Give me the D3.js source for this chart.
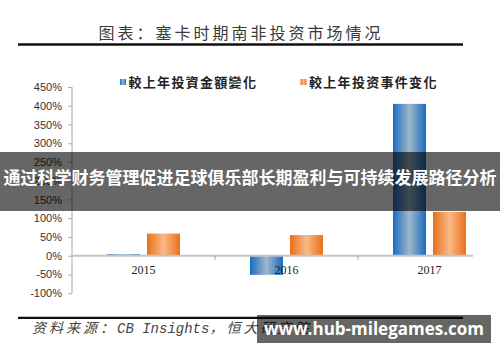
<!DOCTYPE html>
<html>
<head>
<meta charset="utf-8">
<script src="https://cdn.jsdelivr.net/npm/d3@7"></script>
<style>
  html, body { margin: 0; padding: 0; background: #fff; }
  svg { display: block; }
</style>
</head>
<body>
<script>
const years = ['2015', '2016', '2017'];
const seriesNames = ['較上年投資金額變化', '較上年投资事件变化'];
const amountChange = [4, -51, 405];
const eventChange = [59, 55, 117];
const yTicks = [-100, -50, 0, 50, 100, 150, 200, 250, 300, 350, 400, 450];

const width = 500;
const height = 362;

const svg = d3.select('body')
  .append('svg')
  .attr('width', width)
  .attr('height', height);

const defs = svg.append('defs');

const addGradient = (id, edge, mid) => {
  const g = defs.append('linearGradient')
    .attr('id', id)
    .attr('x1', '0%').attr('x2', '100%')
    .attr('y1', '0%').attr('y2', '0%');
  g.append('stop').attr('offset', '0%').attr('stop-color', edge);
  g.append('stop').attr('offset', '50%').attr('stop-color', mid);
  g.append('stop').attr('offset', '100%').attr('stop-color', edge);
};
addGradient('gBlue', '#1a6cc0', '#9fb8ca');
addGradient('gOrange', '#e8701a', '#fbb986');

// title + rules
svg.append('text')
  .attr('x', 241)
  .attr('y', 39)
  .attr('text-anchor', 'middle')
  .style('font-family', '"Noto Sans CJK SC", sans-serif')
  .style('font-size', '16px')
  .style('letter-spacing', '3px')
  .style('fill', '#3a3a3a')
  .text('图表：塞卡时期南非投资市场情况');

svg.append('line')
  .attr('x1', 18).attr('x2', 463)
  .attr('y1', 44.5).attr('y2', 44.5)
  .attr('stroke', '#111')
  .attr('stroke-width', 2.5);

svg.append('line')
  .attr('x1', 18).attr('x2', 463)
  .attr('y1', 317.8).attr('y2', 317.8)
  .attr('stroke', '#111')
  .attr('stroke-width', 2.2);

// scales
const x0 = d3.scaleBand()
  .domain(years)
  .range([72, 501]);

const x1 = d3.scaleBand()
  .domain(seriesNames)
  .range([0, x0.bandwidth()])
  .paddingInner(0.175)
  .paddingOuter(0.875);

const y = d3.scaleLinear()
  .domain([-100, 450])
  .range([293.2, 87]);

// y axis
const yAxis = svg.append('g')
  .attr('transform', 'translate(72,0)')
  .call(d3.axisLeft(y)
    .tickValues(yTicks)
    .tickSize(4)
    .tickPadding(6)
    .tickFormat((d) => d + '%'));

yAxis.select('.domain')
  .attr('stroke', '#c4c4c4')
  .attr('stroke-width', 1.5)
  .attr('d', `M0,${y(-100)}V${y(450)}`);
yAxis.selectAll('.tick line').attr('stroke', '#b0b0b0');
yAxis.selectAll('.tick text')
  .style('font-family', '"Liberation Sans", Arial, sans-serif')
  .style('font-size', '11px')
  .style('fill', '#333');

// bars
const rows = years.map((year, i) => ({
  year: year,
  values: [
    { key: seriesNames[0], value: amountChange[i], fill: 'url(#gBlue)' },
    { key: seriesNames[1], value: eventChange[i], fill: 'url(#gOrange)' }
  ]
}));

svg.append('g')
  .selectAll('g')
  .data(rows)
  .join('g')
  .attr('transform', (d) => `translate(${x0(d.year)},0)`)
  .selectAll('rect')
  .data((d) => d.values)
  .join('rect')
  .attr('x', (d) => x1(d.key))
  .attr('width', x1.bandwidth())
  .attr('y', (d) => y(Math.max(0, d.value)))
  .attr('height', (d) => Math.abs(y(d.value) - y(0)))
  .attr('fill', (d) => d.fill);

// x axis (zero line)
svg.append('line')
  .attr('x1', 72).attr('x2', 473)
  .attr('y1', y(0)).attr('y2', y(0))
  .attr('stroke', '#c4c4c4')
  .attr('stroke-width', 2);

svg.append('g')
  .selectAll('line')
  .data(years.slice(1))
  .join('line')
  .attr('x1', (d) => x0(d)).attr('x2', (d) => x0(d))
  .attr('y1', y(0)).attr('y2', y(0) + 4)
  .attr('stroke', '#999');

svg.append('g')
  .selectAll('text')
  .data(years)
  .join('text')
  .attr('x', (d) => x0(d) + x0.bandwidth() / 2)
  .attr('y', 274)
  .attr('text-anchor', 'middle')
  .style('font-family', '"Liberation Serif", "Times New Roman", serif')
  .style('font-size', '12px')
  .style('fill', '#222')
  .text((d) => d);

// legend
const legendX = [120, 300.5];
const legendFill = ['url(#gBlue)', 'url(#gOrange)'];
const legend = svg.append('g')
  .selectAll('g')
  .data(seriesNames)
  .join('g')
  .attr('transform', (d, i) => `translate(${legendX[i]},79)`);

legend.append('rect')
  .attr('width', 6)
  .attr('height', 6)
  .attr('fill', (d, i) => legendFill[i]);

legend.append('text')
  .attr('x', 8.5)
  .attr('y', 7.5)
  .style('font-family', '"Noto Sans CJK TC", "Noto Sans CJK SC", sans-serif')
  .style('font-size', '13px')
  .style('font-weight', 'bold')
  .style('letter-spacing', '1.3px')
  .style('fill', '#222')
  .text((d) => d);

// source line
const source = svg.append('text')
  .attr('x', 32)
  .attr('y', 333)
  .style('font-style', 'italic')
  .style('font-size', '14px')
  .style('fill', '#444');
source.append('tspan')
  .style('font-family', '"Noto Sans CJK SC", sans-serif')
  .style('letter-spacing', '3px')
  .text('资料来源：');
source.append('tspan')
  .style('font-family', '"Liberation Mono", monospace')
  .text('CB Insights');
source.append('tspan')
  .style('font-family', '"Noto Sans CJK SC", sans-serif')
  .style('letter-spacing', '3px')
  .text('，恒大研究院');

// overlay banner
svg.append('rect')
  .attr('x', 0).attr('y', 152)
  .attr('width', 500).attr('height', 59)
  .attr('fill', 'rgba(0,0,0,0.6)');

svg.append('text')
  .attr('x', 250)
  .attr('y', 184)
  .attr('text-anchor', 'middle')
  .style('font-family', '"Noto Sans CJK SC", sans-serif')
  .style('font-size', '17px')
  .style('font-weight', 'bold')
  .style('fill', '#fff')
  .text('通过科学财务管理促进足球俱乐部长期盈利与可持续发展路径分析');

// watermark
svg.append('rect')
  .attr('x', 257).attr('y', 315)
  .attr('width', 234).attr('height', 28)
  .attr('fill', 'rgba(0,0,0,0.6)');

svg.append('text')
  .attr('x', 374)
  .attr('y', 335)
  .attr('text-anchor', 'middle')
  .style('font-family', '"Open Sans", "Noto Sans", sans-serif')
  .style('font-size', '17px')
  .style('font-weight', 'bold')
  .style('fill', '#fff')
  .text('www.hub-milegames.com');
</script>
</body>
</html>
